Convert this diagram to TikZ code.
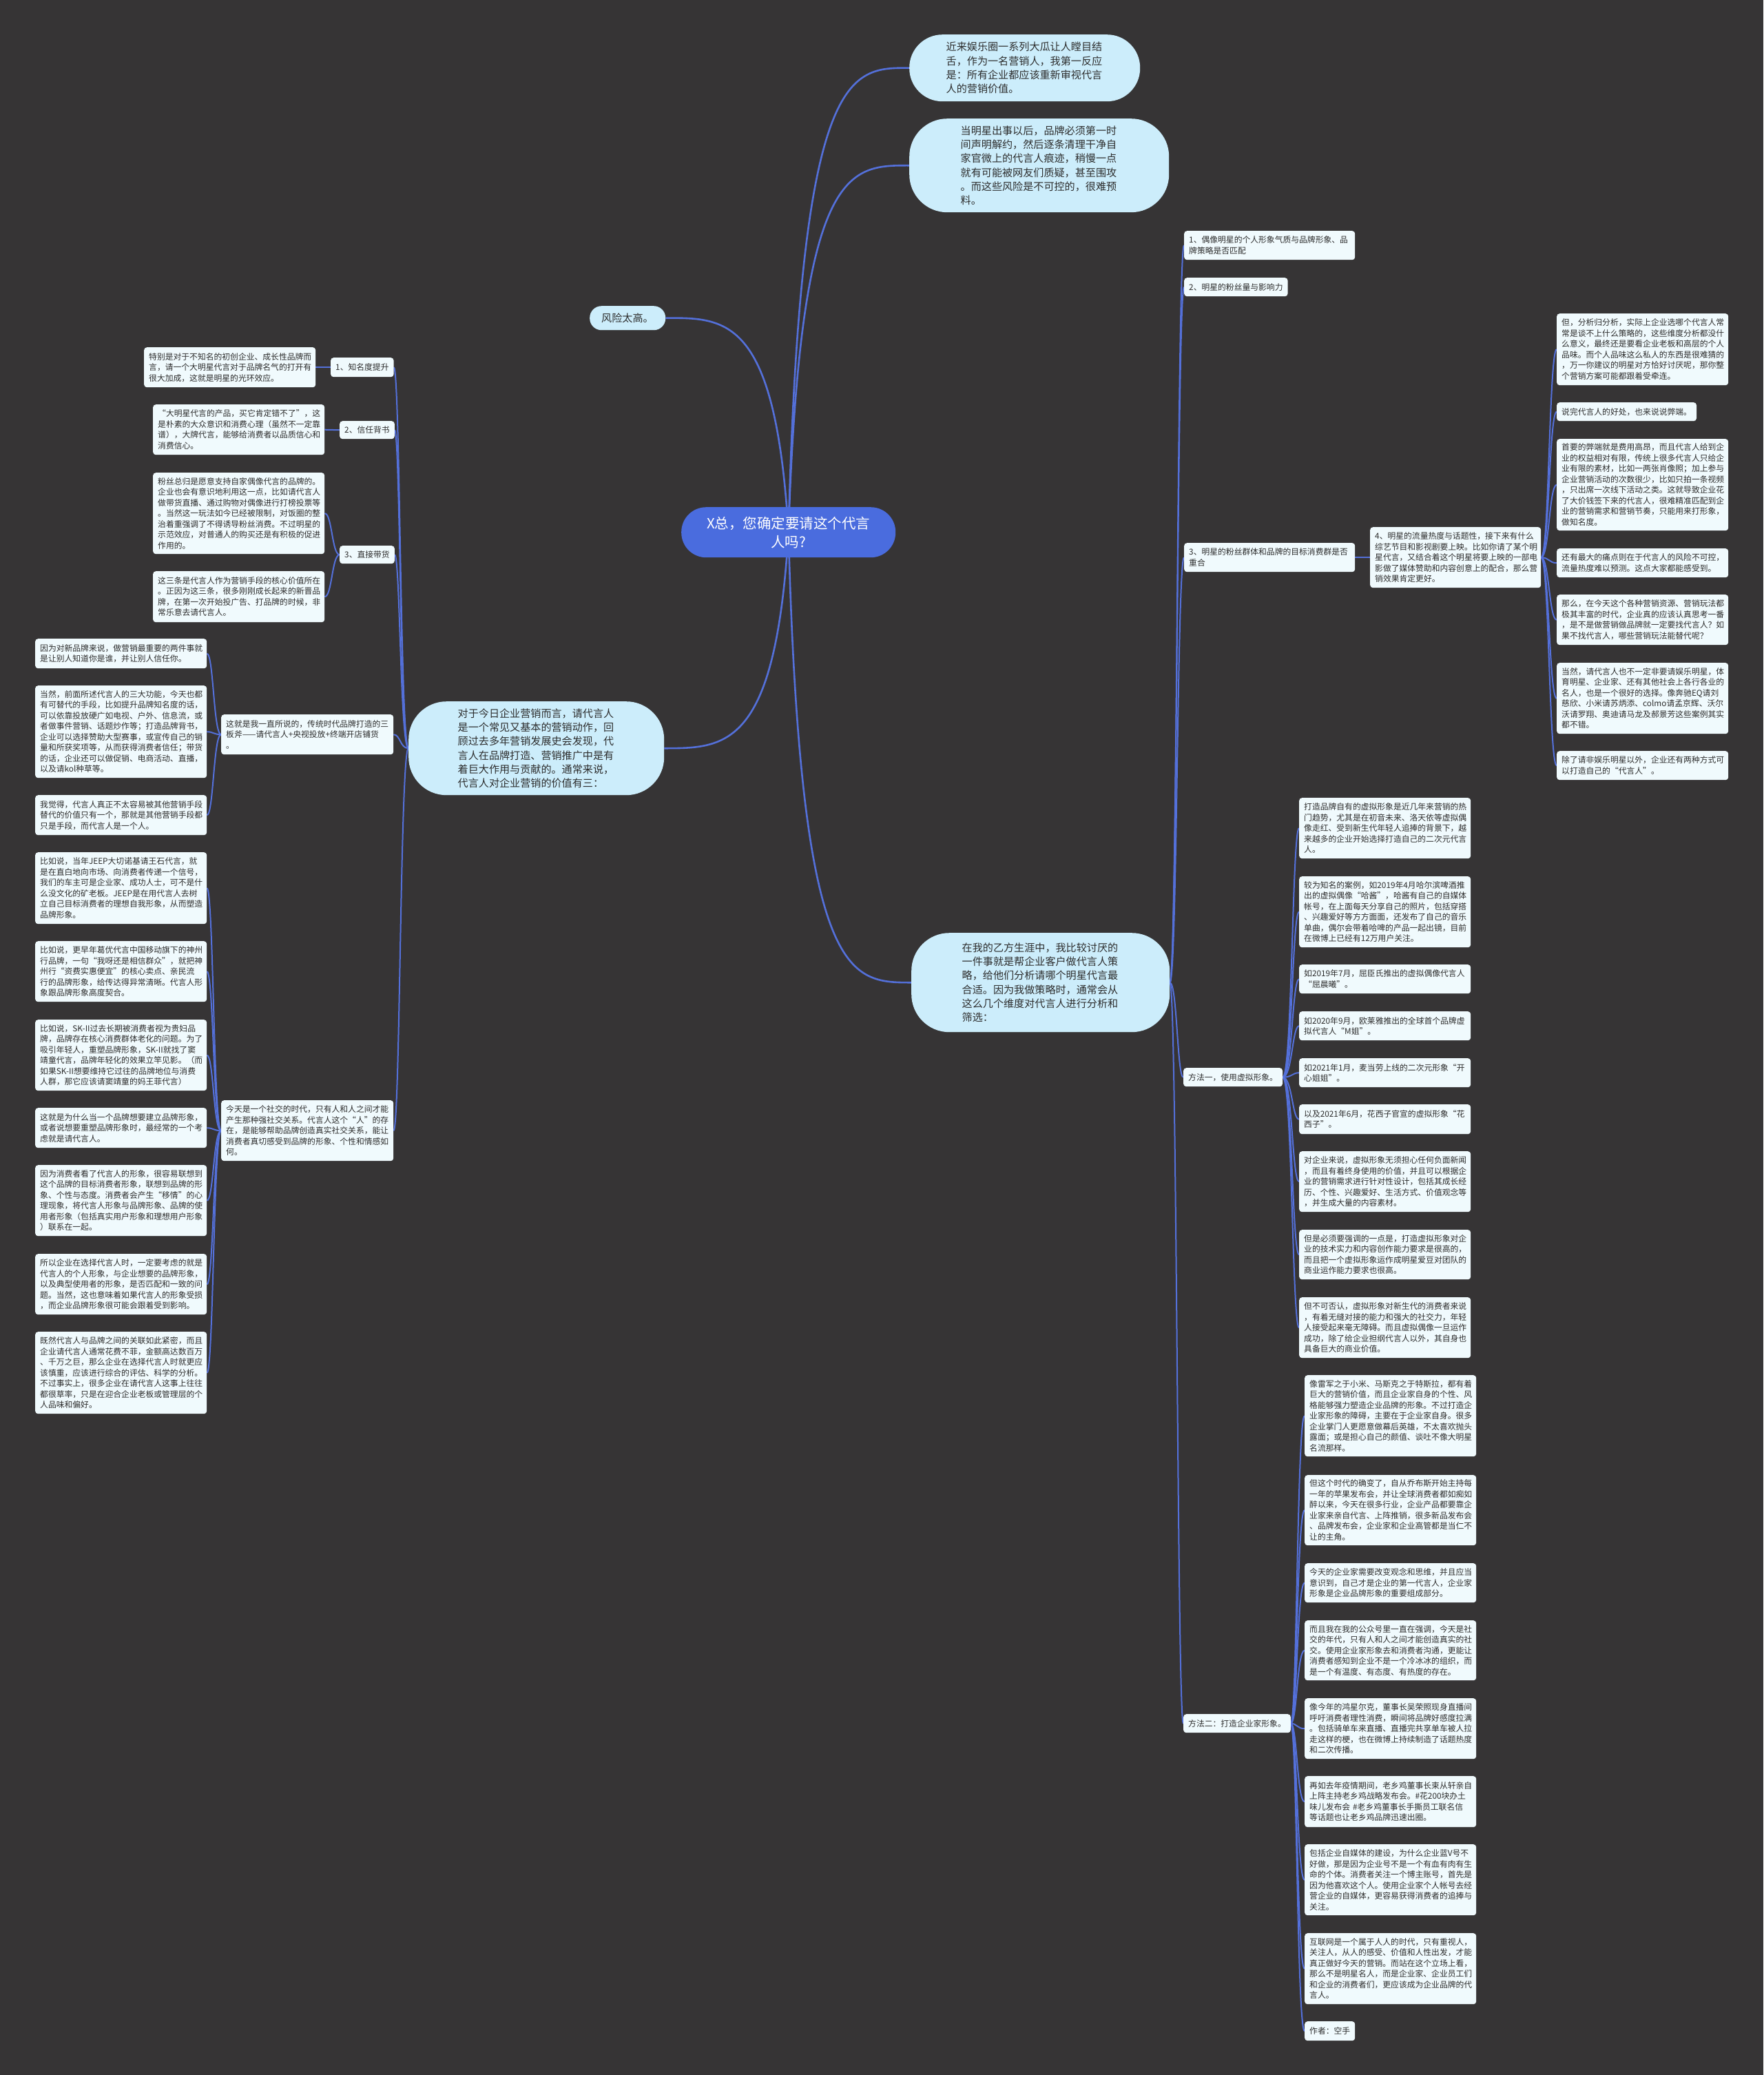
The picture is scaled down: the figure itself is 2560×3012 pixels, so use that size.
\documentclass[tikz,border=0pt]{standalone}
\usepackage{fontspec}
\newfontfamily\cjk{Noto Sans CJK SC}
\definecolor{bgc}{RGB}{54,52,53}
\definecolor{lnc}{RGB}{84,112,218}
\definecolor{boxc}{RGB}{240,250,253}
\definecolor{mainc}{RGB}{204,237,251}
\definecolor{ctrc}{RGB}{74,108,222}
\definecolor{txtc}{RGB}{45,45,45}
\pgfdeclarelayer{bg}\pgfdeclarelayer{lines}\pgfsetlayers{bg,lines,main}
\tikzset{
 sbox/.style={anchor=north west, fill=boxc, rounded corners=4pt, inner xsep=7pt, inner ysep=3pt, align=left, text=txtc, font=\cjk\fontsize{11.8}{15.5}\selectfont},
 mbox/.style={anchor=north west, fill=mainc, inner sep=0pt, align=left, text=txtc, text width=228pt, font=\cjk\fontsize{15.1}{20.3}\selectfont},
 lnk/.style={draw=lnc, line width=2pt},
 clnk/.style={draw=lnc, line width=2.6pt},
}
\begin{document}
\begin{tikzpicture}[x=1pt,y=-1pt]
\useasboundingbox (0,0) rectangle (2560,3012);
\begin{pgfonlayer}{bg}\fill[bgc] (0,0) rectangle (2560,3012);\end{pgfonlayer}

% ---------- main nodes ----------
\node[anchor=north west, fill=ctrc, rounded corners=36pt, minimum width=311pt, minimum height=73pt, inner sep=0pt, text=white, align=center, text width=280pt, font=\cjk\fontsize{20.5}{27}\selectfont] (CN) at (989,736) {X总，您确定要请这个代言\\人吗?};
\node[mbox, rounded corners=48pt, minimum width=335pt, minimum height=97pt] (T1) at (1320,50) {近来娱乐圈一系列大瓜让人瞠目结\\舌，作为一名营销人，我第一反应\\是：所有企业都应该重新审视代言\\人的营销价值。};
\node[mbox, rounded corners=55pt, minimum width=377pt, minimum height=136pt] (T2) at (1320,172) {当明星出事以后，品牌必须第一时\\间声明解约，然后逐条清理干净自\\家官微上的代言人痕迹，稍慢一点\\就有可能被网友们质疑，甚至围攻\\。而这些风险是不可控的，很难预\\料。};
\node[mbox, rounded corners=17pt, minimum width=110pt, minimum height=35pt, text width=76pt] (risk) at (856,444) {风险太高。};
\node[mbox, rounded corners=55pt, minimum width=371pt, minimum height=136pt] (LM) at (593,1018) {对于今日企业营销而言，请代言人\\是一个常见又基本的营销动作，回\\顾过去多年营销发展史会发现，代\\言人在品牌打造、营销推广中是有\\着巨大作用与贡献的。通常来说，\\代言人对企业营销的价值有三：};
\node[mbox, rounded corners=55pt, minimum width=375pt, minimum height=144pt] (RM) at (1323,1354) {在我的乙方生涯中，我比较讨厌的\\一件事就是帮企业客户做代言人策\\略，给他们分析请哪个明星代言最\\合适。因为我做策略时，通常会从\\这么几个维度对代言人进行分析和\\筛选：};

% ---------- left side ----------
\node[sbox, minimum height=28pt] (L1) at (480,519) {1、知名度提升};
\node[sbox, minimum height=26pt] (L2) at (493,611) {2、信任背书};
\node[sbox, minimum height=26pt] (L3) at (493,792) {3、直接带货};
\node[sbox, text width=235pt, minimum height=58pt] (A1) at (209,504) {特别是对于不知名的初创企业、成长性品牌而\\言，请一个大明星代言对于品牌名气的打开有\\很大加成，这就是明星的光环效应。};
\node[sbox, text width=235pt, minimum height=73pt] (A2) at (222,587) {“大明星代言的产品，买它肯定错不了”，这\\是朴素的大众意识和消费心理（虽然不一定靠\\谱），大牌代言，能够给消费者以品质信心和\\消费信心。};
\node[sbox, text width=235pt, minimum height=118pt] (A3) at (222,686) {粉丝总归是愿意支持自家偶像代言的品牌的。\\企业也会有意识地利用这一点，比如请代言人\\做带货直播、通过购物对偶像进行打榜投票等\\。当然这一玩法如今已经被限制，对饭圈的整\\治着重强调了不得诱导粉丝消费。不过明星的\\示范效应，对普通人的购买还是有积极的促进\\作用的。};
\node[sbox, text width=235pt, minimum height=74pt] (A4) at (222,829) {这三条是代言人作为营销手段的核心价值所在\\。正因为这三条，很多刚刚成长起来的新晋品\\牌，在第一次开始投广告、打品牌的时候，非\\常乐意去请代言人。};

\node[sbox, text width=236pt, minimum height=58pt] (M1) at (321,1037) {这就是我一直所说的，传统时代品牌打造的三\\板斧——请代言人+央视投放+终端开店铺货\\。};
\node[sbox, text width=235pt, minimum height=43pt] (B1) at (51,927) {因为对新品牌来说，做营销最重要的两件事就\\是让别人知道你是谁，并让别人信任你。};
\node[sbox, text width=235pt, minimum height=134pt] (B2) at (51,995) {当然，前面所述代言人的三大功能，今天也都\\有可替代的手段，比如提升品牌知名度的话，\\可以依靠投放硬广如电视、户外、信息流，或\\者做事件营销、话题炒作等；打造品牌背书，\\企业可以选择赞助大型赛事，或宣传自己的销\\量和所获奖项等，从而获得消费者信任；带货\\的话，企业还可以做促销、电商活动、直播，\\以及请kol种草等。};
\node[sbox, text width=235pt, minimum height=58pt] (B3) at (51,1154) {我觉得，代言人真正不太容易被其他营销手段\\替代的价值只有一个，那就是其他营销手段都\\只是手段，而代言人是一个人。};

\node[sbox, text width=236pt, minimum height=88pt] (M2) at (321,1597) {今天是一个社交的时代，只有人和人之间才能\\产生那种强社交关系。代言人这个“人”的存\\在，是能够帮助品牌创造真实社交关系，能让\\消费者真切感受到品牌的形象、个性和情感如\\何。};
\node[sbox, text width=235pt, minimum height=104pt] (B4) at (51,1237) {比如说，当年JEEP大切诺基请王石代言，就\\是在直白地向市场、向消费者传递一个信号，\\我们的车主可是企业家、成功人士，可不是什\\么没文化的矿老板。JEEP是在用代言人去树\\立自己目标消费者的理想自我形象，从而塑造\\品牌形象。};
\node[sbox, text width=235pt, minimum height=88pt] (B5) at (51,1366) {比如说，更早年葛优代言中国移动旗下的神州\\行品牌，一句“我呀还是相信群众”，就把神\\州行“资费实惠便宜”的核心卖点、亲民流\\行的品牌形象，给传达得异常清晰。代言人形\\象跟品牌形象高度契合。};
\node[sbox, text width=235pt, minimum height=103pt] (B6) at (51,1480) {比如说，SK-II过去长期被消费者视为贵妇品\\牌，品牌存在核心消费群体老化的问题。为了\\吸引年轻人，重塑品牌形象，SK-II就找了窦\\靖童代言，品牌年轻化的效果立竿见影。（而\\如果SK-II想要维持它过往的品牌地位与消费\\人群，那它应该请窦靖童的妈王菲代言）};
\node[sbox, text width=235pt, minimum height=58pt] (B7) at (51,1608) {这就是为什么当一个品牌想要建立品牌形象，\\或者说想要重塑品牌形象时，最经常的一个考\\虑就是请代言人。};
\node[sbox, text width=235pt, minimum height=103pt] (B8) at (51,1691) {因为消费者看了代言人的形象，很容易联想到\\这个品牌的目标消费者形象，联想到品牌的形\\象、个性与态度。消费者会产生“移情”的心\\理现象，将代言人形象与品牌形象、品牌的使\\用者形象（包括真实用户形象和理想用户形象\\）联系在一起。};
\node[sbox, text width=235pt, minimum height=88pt] (B9) at (51,1820) {所以企业在选择代言人时，一定要考虑的就是\\代言人的个人形象，与企业想要的品牌形象，\\以及典型使用者的形象，是否匹配和一致的问\\题。当然，这也意味着如果代言人的形象受损\\，而企业品牌形象很可能会跟着受到影响。};
\node[sbox, text width=235pt, minimum height=119pt] (B10) at (51,1933) {既然代言人与品牌之间的关联如此紧密，而且\\企业请代言人通常花费不菲，金额高达数百万\\、千万之巨，那么企业在选择代言人时就更应\\该慎重，应该进行综合的评估、科学的分析。\\不过事实上，很多企业在请代言人这事上往往\\都很草率，只是在迎合企业老板或管理层的个\\人品味和偏好。};

% ---------- right side ----------
\node[sbox, text width=234pt, minimum height=42pt] (r1) at (1719,335) {1、偶像明星的个人形象气质与品牌形象、品\\牌策略是否匹配};
\node[sbox, minimum height=27pt] (r2) at (1719,403) {2、明星的粉丝量与影响力};
\node[sbox, text width=234pt, minimum height=42pt] (r3) at (1719,788) {3、明星的粉丝群体和品牌的目标消费群是否\\重合};
\node[sbox, text width=234pt, minimum height=88pt] (r4) at (1989,765) {4、明星的流量热度与话题性，接下来有什么\\综艺节目和影视剧要上映。比如你请了某个明\\星代言，又结合着这个明星将要上映的一部电\\影做了媒体赞助和内容创意上的配合，那么营\\销效果肯定更好。};

\node[sbox, text width=235pt, minimum height=104pt] (c1) at (2260,455) {但，分析归分析，实际上企业选哪个代言人常\\常是谈不上什么策略的，这些维度分析都没什\\么意义，最终还是要看企业老板和高层的个人\\品味。而个人品味这么私人的东西是很难猜的\\，万一你建议的明星对方恰好讨厌呢，那你整\\个营销方案可能都跟着受牵连。};
\node[sbox, minimum height=27pt] (c2) at (2260,584) {说完代言人的好处，也来说说弊端。};
\node[sbox, text width=235pt, minimum height=133pt] (c3) at (2260,637) {首要的弊端就是费用高昂，而且代言人给到企\\业的权益相对有限，传统上很多代言人只给企\\业有限的素材，比如一两张肖像照；加上参与\\企业营销活动的次数很少，比如只拍一条视频\\，只出席一次线下活动之类。这就导致企业花\\了大价钱签下来的代言人，很难精准匹配到企\\业的营销需求和营销节奏，只能用来打形象，\\做知名度。};
\node[sbox, text width=235pt, minimum height=42pt] (c4) at (2260,796) {还有最大的痛点则在于代言人的风险不可控，\\流量热度难以预测。这点大家都能感受到。};
\node[sbox, text width=235pt, minimum height=73pt] (c5) at (2260,863) {那么，在今天这个各种营销资源、营销玩法都\\极其丰富的时代，企业真的应该认真思考一番\\，是不是做营销做品牌就一定要找代言人？如\\果不找代言人，哪些营销玩法能替代呢？};
\node[sbox, text width=235pt, minimum height=103pt] (c6) at (2260,962) {当然，请代言人也不一定非要请娱乐明星，体\\育明星、企业家、还有其他社会上各行各业的\\名人，也是一个很好的选择。像奔驰EQ请刘\\慈欣、小米请苏炳添、colmo请孟京辉、沃尔\\沃请罗翔、奥迪请马龙及郝景芳这些案例其实\\都不错。};
\node[sbox, text width=235pt, minimum height=42pt] (c7) at (2260,1090) {除了请非娱乐明星以外，企业还有两种方式可\\以打造自己的“代言人”。};

\node[sbox, minimum height=27pt] (F1) at (1718,1550) {方法一，使用虚拟形象。};
\node[sbox, text width=235pt, minimum height=88pt] (D1) at (1886,1158) {打造品牌自有的虚拟形象是近几年来营销的热\\门趋势，尤其是在初音未来、洛天依等虚拟偶\\像走红、受到新生代年轻人追捧的背景下，越\\来越多的企业开始选择打造自己的二次元代言\\人。};
\node[sbox, text width=235pt, minimum height=103pt] (D2) at (1886,1272) {较为知名的案例，如2019年4月哈尔滨啤酒推\\出的虚拟偶像“哈酱”，哈酱有自己的自媒体\\帐号，在上面每天分享自己的照片，包括穿搭\\、兴趣爱好等方方面面，还发布了自己的音乐\\单曲，偶尔会带着哈啤的产品一起出镜，目前\\在微博上已经有12万用户关注。};
\node[sbox, text width=235pt, minimum height=42pt] (D3) at (1886,1400) {如2019年7月，屈臣氏推出的虚拟偶像代言人\\“屈晨曦”。};
\node[sbox, text width=235pt, minimum height=42pt] (D4) at (1886,1468) {如2020年9月，欧莱雅推出的全球首个品牌虚\\拟代言人“M姐”。};
\node[sbox, text width=235pt, minimum height=42pt] (D5) at (1886,1536) {如2021年1月，麦当劳上线的二次元形象“开\\心姐姐”。};
\node[sbox, text width=235pt, minimum height=43pt] (D6) at (1886,1603) {以及2021年6月，花西子官宣的虚拟形象“花\\西子”。};
\node[sbox, text width=235pt, minimum height=88pt] (D7) at (1886,1671) {对企业来说，虚拟形象无须担心任何负面新闻\\，而且有着终身使用的价值，并且可以根据企\\业的营销需求进行针对性设计，包括其成长经\\历、个性、兴趣爱好、生活方式、价值观念等\\，并生成大量的内容素材。};
\node[sbox, text width=235pt, minimum height=72pt] (D8) at (1886,1785) {但是必须要强调的一点是，打造虚拟形象对企\\业的技术实力和内容创作能力要求是很高的，\\而且把一个虚拟形象运作成明星爱豆对团队的\\商业运作能力要求也很高。};
\node[sbox, text width=235pt, minimum height=88pt] (D9) at (1886,1883) {但不可否认，虚拟形象对新生代的消费者来说\\，有着无缝对接的能力和强大的社交力，年轻\\人接受起来毫无障碍。而且虚拟偶像一旦运作\\成功，除了给企业担纲代言人以外，其自身也\\具备巨大的商业价值。};

\node[sbox, minimum height=27pt] (F2) at (1718,2488) {方法二：打造企业家形象。};
\node[sbox, text width=235pt, minimum height=118pt] (E1) at (1894,1996) {像雷军之于小米、马斯克之于特斯拉，都有着\\巨大的营销价值，而且企业家自身的个性、风\\格能够强力塑造企业品牌的形象。不过打造企\\业家形象的障碍，主要在于企业家自身。很多\\企业掌门人更愿意做幕后英雄，不太喜欢抛头\\露面；或是担心自己的颜值、谈吐不像大明星\\名流那样。};
\node[sbox, text width=235pt, minimum height=102pt] (E2) at (1894,2141) {但这个时代的确变了，自从乔布斯开始主持每\\一年的苹果发布会，并让全球消费者都如痴如\\醉以来，今天在很多行业，企业产品都要靠企\\业家来亲自代言、上阵推销，很多新品发布会\\、品牌发布会，企业家和企业高管都是当仁不\\让的主角。};
\node[sbox, text width=235pt, minimum height=57pt] (E3) at (1894,2269) {今天的企业家需要改变观念和思维，并且应当\\意识到，自己才是企业的第一代言人，企业家\\形象是企业品牌形象的重要组成部分。};
\node[sbox, text width=235pt, minimum height=87pt] (E4) at (1894,2352) {而且我在我的公众号里一直在强调，今天是社\\交的年代，只有人和人之间才能创造真实的社\\交。使用企业家形象去和消费者沟通，更能让\\消费者感知到企业不是一个冷冰冰的组织，而\\是一个有温度、有态度、有热度的存在。};
\node[sbox, text width=235pt, minimum height=88pt] (E5) at (1894,2465) {像今年的鸿星尔克，董事长吴荣照现身直播间\\呼吁消费者理性消费，瞬间将品牌好感度拉满\\。包括骑单车来直播、直播完共享单车被人拉\\走这样的梗，也在微博上持续制造了话题热度\\和二次传播。};
\node[sbox, text width=235pt, minimum height=74pt] (E6) at (1894,2578) {再如去年疫情期间，老乡鸡董事长束从轩亲自\\上阵主持老乡鸡战略发布会。\#花200块办土\\味儿发布会 \#老乡鸡董事长手撕员工联名信\\等话题也让老乡鸡品牌迅速出圈。};
\node[sbox, text width=235pt, minimum height=103pt] (E7) at (1894,2677) {包括企业自媒体的建设，为什么企业蓝V号不\\好做，那是因为企业号不是一个有血有肉有生\\命的个体。消费者关注一个博主账号，首先是\\因为他喜欢这个人。使用企业家个人帐号去经\\营企业的自媒体，更容易获得消费者的追捧与\\关注。};
\node[sbox, text width=235pt, minimum height=103pt] (E8) at (1894,2806) {互联网是一个属于人人的时代，只有重视人，\\关注人，从人的感受、价值和人性出发，才能\\真正做好今天的营销。而站在这个立场上看，\\那么不是明星名人，而是企业家、企业员工们\\和企业的消费者们，更应该成为企业品牌的代\\言人。};
\node[sbox, minimum height=28pt] (E9) at (1894,2934) {作者：空手};

% ---------- trunk coordinates ----------
\coordinate (tR) at (1709,0);
\coordinate (t4) at (2249,0);
\coordinate (tD) at (1876,0);
\coordinate (tE) at (1883,0);
\coordinate (tL) at (581,0);
\coordinate (t3) at (482,0);
\coordinate (tM) at (310,0);

% ---------- connectors ----------
\begin{pgfonlayer}{lines}
\draw[clnk] (CN.center) .. controls (1162,98) and (1233,98) .. (T1.west);
\draw[clnk] (CN.center) .. controls (1162,240) and (1232,240) .. (T2.west);
\draw[clnk] (CN.center) .. controls (1126,461) and (1055,461) .. (risk.east);
\draw[clnk] (CN.center) .. controls (1126,1086) and (1054,1086) .. (LM.east);
\draw[clnk] (CN.center) .. controls (1162,1426) and (1233,1426) .. (RM.west);

\foreach \c in {r1,r2,r3,F1,F2}
  \draw[lnk] (RM.east) .. controls (RM.east -| tR) and (\c.west -| tR) .. (\c.west);
\draw[lnk] (r3.east) -- (r4.west);
\foreach \c in {c1,c2,c3,c4,c5,c6,c7}
  \draw[lnk] (r4.east) .. controls (r4.east -| t4) and (\c.west -| t4) .. (\c.west);
\foreach \c in {D1,D2,D3,D4,D5,D6,D7,D8,D9}
  \draw[lnk] (F1.east) .. controls (F1.east -| tD) and (\c.west -| tD) .. (\c.west);
\foreach \c in {E1,E2,E3,E4,E5,E6,E7,E8,E9}
  \draw[lnk] (F2.east) .. controls (F2.east -| tE) and (\c.west -| tE) .. (\c.west);

\foreach \c in {L1,L2,L3,M1,M2}
  \draw[lnk] (LM.west) .. controls (LM.west -| tL) and (\c.east -| tL) .. (\c.east);
\draw[lnk] (L1.west) -- (A1.east);
\draw[lnk] (L2.west) -- (A2.east);
\foreach \c in {A3,A4}
  \draw[lnk] (L3.west) .. controls (L3.west -| t3) and (\c.east -| t3) .. (\c.east);
\foreach \c in {B1,B2,B3}
  \draw[lnk] (M1.west) .. controls (M1.west -| tM) and (\c.east -| tM) .. (\c.east);
\foreach \c in {B4,B5,B6,B7,B8,B9,B10}
  \draw[lnk] (M2.west) .. controls (M2.west -| tM) and (\c.east -| tM) .. (\c.east);
\end{pgfonlayer}
\end{tikzpicture}
\end{document}
